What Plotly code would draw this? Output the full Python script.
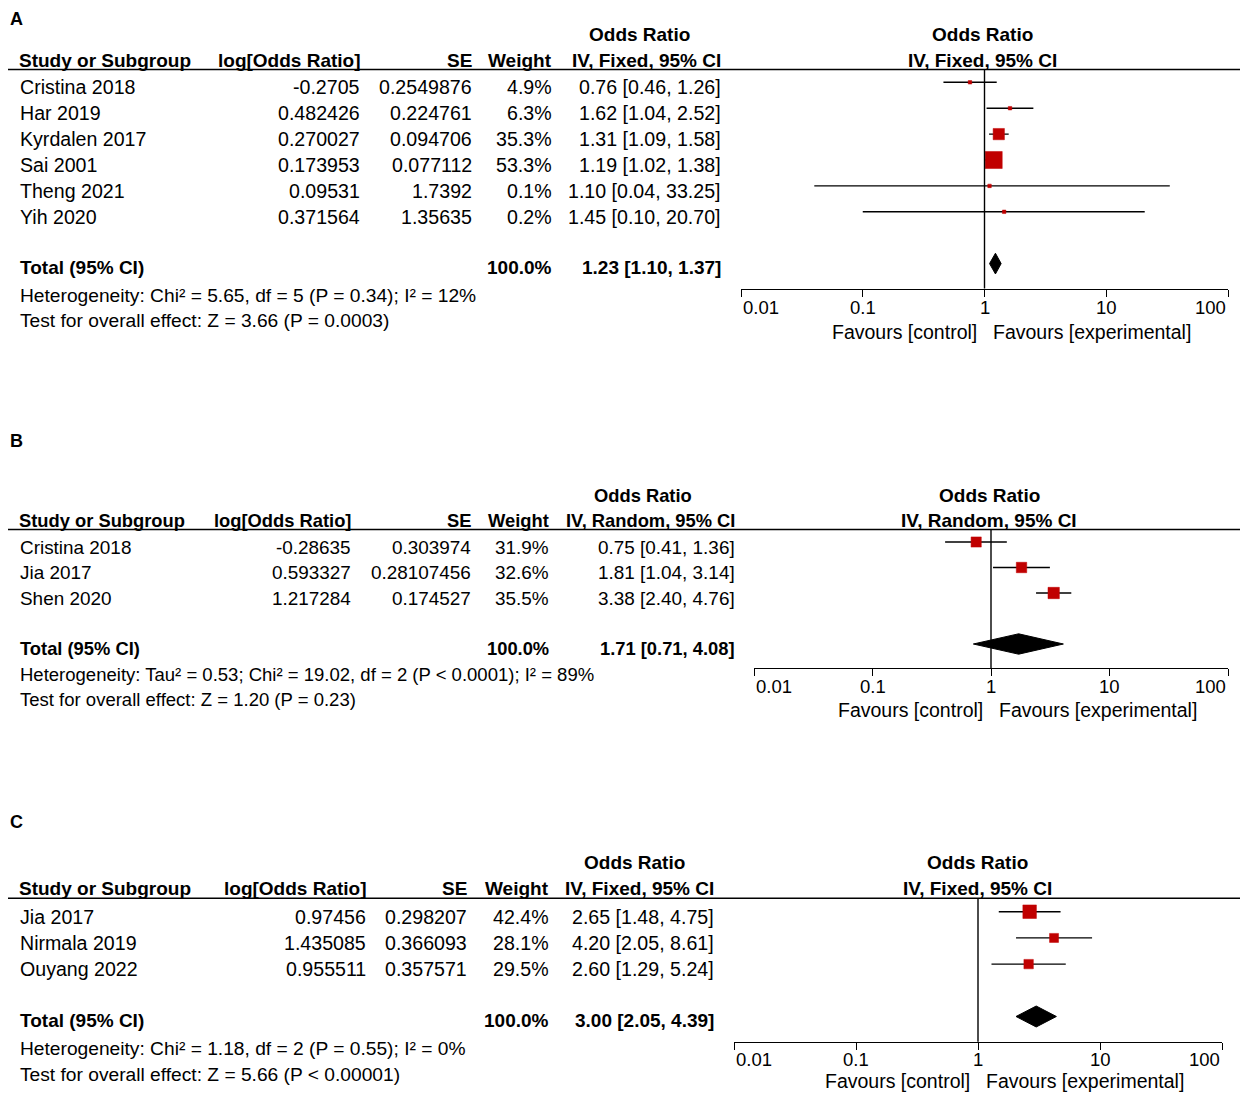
import numpy as np
import plotly.graph_objects as go

# ---------------- data ----------------
# Panel A
names_A = ["Cristina 2018", "Har 2019", "Kyrdalen 2017", "Sai 2001", "Theng 2021", "Yih 2020"]
logor_A = ["-0.2705", "0.482426", "0.270027", "0.173953", "0.09531", "0.371564"]
se_A = ["0.2549876", "0.224761", "0.094706", "0.077112", "1.7392", "1.35635"]
weight_A = [4.9, 6.3, 35.3, 53.3, 0.1, 0.2]
or_A = [0.76, 1.62, 1.31, 1.19, 1.10, 1.45]
lo_A = [0.46, 1.04, 1.09, 1.02, 0.04, 0.10]
hi_A = [1.26, 2.52, 1.58, 1.38, 33.25, 20.70]
total_A = [1.23, 1.10, 1.37]
method_A = "IV, Fixed, 95% CI"
het_A = "Heterogeneity: Chi² = 5.65, df = 5 (P = 0.34); I² = 12%"
test_A = "Test for overall effect: Z = 3.66 (P = 0.0003)"

# Panel B
names_B = ["Cristina 2018", "Jia 2017", "Shen 2020"]
logor_B = ["-0.28635", "0.593327", "1.217284"]
se_B = ["0.303974", "0.28107456", "0.174527"]
weight_B = [31.9, 32.6, 35.5]
or_B = [0.75, 1.81, 3.38]
lo_B = [0.41, 1.04, 2.40]
hi_B = [1.36, 3.14, 4.76]
total_B = [1.71, 0.71, 4.08]
method_B = "IV, Random, 95% CI"
het_B = "Heterogeneity: Tau² = 0.53; Chi² = 19.02, df = 2 (P &lt; 0.0001); I² = 89%"
test_B = "Test for overall effect: Z = 1.20 (P = 0.23)"

# Panel C
names_C = ["Jia 2017", "Nirmala 2019", "Ouyang 2022"]
logor_C = ["0.97456", "1.435085", "0.955511"]
se_C = ["0.298207", "0.366093", "0.357571"]
weight_C = [42.4, 28.1, 29.5]
or_C = [2.65, 4.20, 2.60]
lo_C = [1.48, 2.05, 1.29]
hi_C = [4.75, 8.61, 5.24]
total_C = [3.00, 2.05, 4.39]
method_C = "IV, Fixed, 95% CI"
het_C = "Heterogeneity: Chi² = 1.18, df = 2 (P = 0.55); I² = 0%"
test_C = "Test for overall effect: Z = 5.66 (P &lt; 0.00001)"

tick_vals = [0.01, 0.1, 1, 10, 100]
tick_text = ["0.01", "0.1", "1", "10", "100"]
panel_letters = ["A", "B", "C"]

# ---------------- layout constants (pixels of the 1248x1101 page) ----------------
PAGE_W, PAGE_H = 1248, 1101
OFF = 8                      # default body margin of the page
W, H = PAGE_W - 2 * OFF, PAGE_H - 2 * OFF
FONT = "Liberation Sans, Arial, Helvetica, sans-serif"
RED = "#C00000"
BLACK = "#000000"

panels = [
    dict(fs=1.0, letter_y=19, or_y=34, head_y=60, line_y=69.5, row0=82.3, step=25.9, axis_y=288.5,
         ticklab_y=307, fav_y=332, het_y=295, test_y=321,
         ax0=741, ax1=1228, c_lor=362, c_se=474, c_w=554, c_ci=723, c_orhead=639,
         f_head=982,
         names=names_A, lor=logor_A, se=se_A, w=weight_A, est=or_A, lo=lo_A, hi=hi_A,
         tot=total_A, method=method_A, het=het_A, test=test_A),
    dict(fs=0.965, letter_y=441, or_y=495, head_y=520, line_y=529.5, row0=542, step=25.5, axis_y=668,
         ticklab_y=686, fav_y=710, het_y=674, test_y=699,
         ax0=754, ax1=1228, c_lor=353, c_se=473, c_w=551, c_ci=737, c_orhead=643,
         f_head=989,
         names=names_B, lor=logor_B, se=se_B, w=weight_B, est=or_B, lo=lo_B, hi=hi_B,
         tot=total_B, method=method_B, het=het_B, test=test_B),
    dict(fs=1.0, letter_y=822, or_y=862, head_y=888, line_y=898.3, row0=911.7, step=26.2, axis_y=1041.7,
         ticklab_y=1059, fav_y=1081, het_y=1048, test_y=1074,
         ax0=734, ax1=1222, c_lor=368, c_se=469, c_w=551, c_ci=716, c_orhead=634,
         f_head=977,
         names=names_C, lor=logor_C, se=se_C, w=weight_C, est=or_C, lo=lo_C, hi=hi_C,
         tot=total_C, method=method_C, het=het_C, test=test_C),
]


def px(x):
    return (x - OFF) / W


def py(y):
    return 1 - (y - OFF) / H


annotations = []
shapes = []
fig = go.Figure()


def txt(x, y, s, anchor="left", bold=False, size=19, xref="paper", yref="paper", yshift=0, xshift=0):
    annotations.append(dict(
        x=x, y=y, xref=xref, yref=yref, text=("<b>%s</b>" % s) if bold else s,
        xanchor=anchor, yanchor="middle", showarrow=False, yshift=yshift, xshift=xshift,
        font=dict(family=FONT, size=size, color=BLACK)))


for k, p in enumerate(panels, start=1):
    xa = "x" if k == 1 else "x%d" % k
    ya = "y" if k == 1 else "y%d" % k
    n = len(p["names"])
    tot_row = n + 1
    top_row = (p["line_y"] - p["row0"]) / p["step"]
    bot_row = (p["axis_y"] - p["row0"]) / p["step"]
    dom_x = [px(p["ax0"]), px(p["ax1"])]
    fb = 19 * p["fs"]        # bold header size
    fr = 19.6 * p["fs"]      # regular table size

    axis_common = dict(type="log", range=[-2, 2], domain=dom_x, anchor=ya,
                       tickvals=tick_vals, showticklabels=False, showgrid=False,
                       zeroline=False, fixedrange=True, tickcolor=BLACK, tickwidth=1.4, ticklen=7)
    fig.update_layout(**{
        ("xaxis" if k == 1 else "xaxis%d" % k): dict(axis_common, showline=True, linecolor=BLACK,
                                                     linewidth=1.4, ticks="outside"),
        "xaxis%d" % (k + 3): dict(axis_common, overlaying=xa, showline=False, ticks="inside"),
        ("yaxis" if k == 1 else "yaxis%d" % k): dict(domain=[py(p["axis_y"]), py(p["line_y"])],
                                                     range=[bot_row, top_row], visible=False,
                                                     fixedrange=True),
    })

    rows = list(range(n))
    # confidence interval whiskers
    wx, wy = [], []
    for i in rows:
        wx += [p["lo"][i], p["hi"][i], None]
        wy += [i, i, None]
    fig.add_trace(go.Scatter(x=wx, y=wy, mode="lines", xaxis=xa, yaxis=ya,
                             line=dict(color=BLACK, width=1.4), hoverinfo="skip", showlegend=False))
    # weighted squares
    sizes = [max(3.5, 0.32 * w) for w in p["w"]]
    fig.add_trace(go.Scatter(x=p["est"], y=rows, mode="markers", xaxis=xa, yaxis=ya, opacity=1,
                             marker=dict(symbol="square", color=RED, size=sizes, opacity=1,
                                         line=dict(width=0.5, color=RED)),
                             showlegend=False))
    # pooled diamond
    est, lo, hi = p["tot"]
    h = 0.4
    fig.add_trace(go.Scatter(x=[lo, est, hi, est, lo], y=[tot_row, tot_row - h, tot_row, tot_row + h, tot_row],
                             mode="lines", fill="toself", fillcolor=BLACK, xaxis=xa, yaxis=ya,
                             line=dict(color=BLACK, width=1), showlegend=False))
    # line of no effect
    shapes.append(dict(type="line", xref=xa, x0=1, x1=1, yref=ya + " domain", y0=0, y1=1,
                       line=dict(color=BLACK, width=1.4)))
    # header rule
    shapes.append(dict(type="line", xref="paper", x0=0, x1=px(1245), yref="paper",
                       y0=py(p["line_y"]), y1=py(p["line_y"]), line=dict(color=BLACK, width=1.4)))

    # ---- text table ----
    txt(px(8), py(p["letter_y"]), panel_letters[k - 1], bold=True, size=18)
    txt(px(p["c_orhead"]), py(p["or_y"]), "Odds Ratio", anchor="center", bold=True, size=fb)
    txt(px(17), py(p["head_y"]), "Study or Subgroup", bold=True, size=fb)
    txt(px(p["c_lor"]), py(p["head_y"]), "log[Odds Ratio]", anchor="right", bold=True, size=fb)
    txt(px(p["c_se"]), py(p["head_y"]), "SE", anchor="right", bold=True, size=fb)
    txt(px(p["c_w"]), py(p["head_y"]), "Weight", anchor="right", bold=True, size=fb)
    txt(px(p["c_ci"]), py(p["head_y"]), p["method"], anchor="right", bold=True, size=fb)
    for i in rows:
        txt(px(18), i, p["names"][i], yref=ya, yshift=-5, size=fr)
        txt(px(p["c_lor"]), i, p["lor"][i], anchor="right", yref=ya, yshift=-5, size=fr)
        txt(px(p["c_se"]), i, p["se"][i], anchor="right", yref=ya, yshift=-5, size=fr)
        txt(px(p["c_w"]), i, "%.1f%%" % p["w"][i], anchor="right", yref=ya, yshift=-5, size=fr)
        txt(px(p["c_ci"]), i, "%.2f [%.2f, %.2f]" % (p["est"][i], p["lo"][i], p["hi"][i]),
            anchor="right", yref=ya, yshift=-5, size=fr)
    txt(px(18), tot_row, "Total (95% CI)", bold=True, yref=ya, yshift=-4, size=fb)
    txt(px(p["c_w"]), tot_row, "100.0%", anchor="right", bold=True, yref=ya, yshift=-4, size=fb)
    txt(px(p["c_ci"]), tot_row, "%.2f [%.2f, %.2f]" % tuple(p["tot"]), anchor="right", bold=True,
        yref=ya, yshift=-4, size=fb)
    txt(px(18), py(p["het_y"]), p["het"], size=19.2 * p["fs"])
    txt(px(18), py(p["test_y"]), p["test"], size=19.2 * p["fs"])

    # ---- forest header / axis labels ----
    txt(px(p["f_head"]), py(p["or_y"]), "Odds Ratio", anchor="center", bold=True, size=19)
    txt(px(p["f_head"]), py(p["head_y"]), p["method"], anchor="center", bold=True, size=19)
    for j, (tv, tt) in enumerate(zip(tick_vals, tick_text)):
        anc = "left" if j == 0 else ("right" if j == len(tick_vals) - 1 else "center")
        txt(np.log10(tv), py(p["ticklab_y"]), tt, anchor=anc, xref=xa, size=18.5)
    txt(0, py(p["fav_y"]), "Favours [control]", anchor="right", xref=xa, xshift=-6, size=19.5)
    txt(0, py(p["fav_y"]), "Favours [experimental]", anchor="left", xref=xa, xshift=6, size=19.5)

fig.update_layout(width=W, height=H, margin=dict(l=0, r=0, t=0, b=0),
                  paper_bgcolor="white", plot_bgcolor="rgba(0,0,0,0)",
                  annotations=annotations, shapes=shapes, showlegend=False)

fig.write_html("out.html")
